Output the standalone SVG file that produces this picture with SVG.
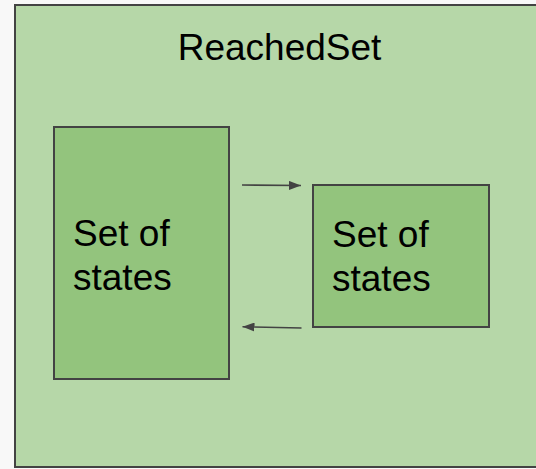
<svg xmlns="http://www.w3.org/2000/svg" width="536" height="469" viewBox="0 0 536 469">
  <style>
    .set { fill: #b6d7a8; stroke: #434343; stroke-width: 2; }
    .states { fill: #93c47d; stroke: #434343; stroke-width: 2; }
    .label { font-family: "Liberation Sans", Arial, sans-serif; font-size: 37px; fill: #000000; }
    .link { stroke: #434343; stroke-width: 1.6; fill: none; }
  </style>
  <defs>
    <marker id="head" viewBox="0 0 12 9" refX="12" refY="4.5" markerWidth="12" markerHeight="9" markerUnits="userSpaceOnUse" orient="auto">
      <path d="M0,0 L12,4.5 L0,9 Z" fill="#434343"/>
    </marker>
  </defs>
  <rect width="536" height="469" fill="#f8f8f8"/>

  <g id="reached-set">
    <rect class="set" x="15" y="5" width="530" height="462"/>
    <text class="label" x="279.5" y="60" text-anchor="middle">ReachedSet</text>
  </g>

  <g id="states-left">
    <rect class="states" x="54" y="127" width="175" height="252"/>
    <text class="label" x="73" y="246">Set of</text>
    <text class="label" x="73" y="290">states</text>
  </g>

  <g id="states-right">
    <rect class="states" x="313" y="185" width="176" height="142"/>
    <text class="label" x="332" y="247">Set of</text>
    <text class="label" x="332" y="291">states</text>
  </g>

  <g id="connectors">
    <line class="link" x1="242" y1="185" x2="301" y2="185.5" marker-end="url(#head)"/>
    <line class="link" x1="301.5" y1="328" x2="242.5" y2="326.8" marker-end="url(#head)"/>
  </g>
</svg>
